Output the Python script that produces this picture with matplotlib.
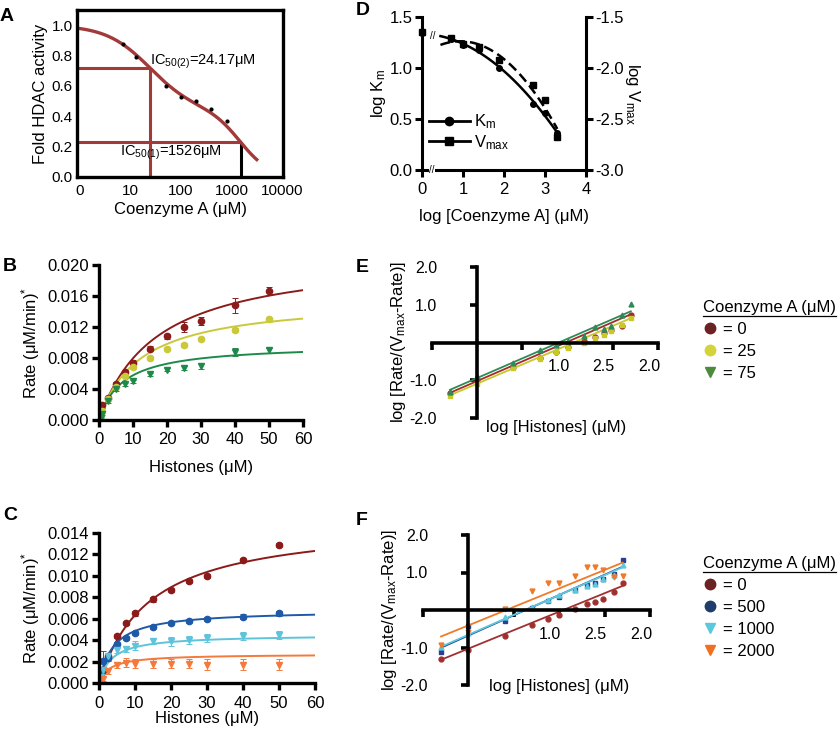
import numpy as np
import matplotlib
matplotlib.use('Agg')
import matplotlib.pyplot as plt
import matplotlib.transforms as mtransforms
from matplotlib.lines import Line2D

plt.rcParams['font.family'] = ['Liberation Sans', 'DejaVu Sans']
plt.rcParams['mathtext.fontset'] = 'custom'
plt.rcParams['mathtext.rm'] = 'Liberation Sans'
plt.rcParams['mathtext.it'] = 'Liberation Sans:italic'
plt.rcParams['mathtext.bf'] = 'Liberation Sans:bold'
plt.rcParams['axes.unicode_minus'] = False

# ---------------- data ----------------
# A: HDAC activity vs coenzyme A
coa_conc = [7, 13, 50, 100, 200, 400, 800]
hdac_activity = [0.875, 0.79, 0.60, 0.53, 0.50, 0.45, 0.37]
ic50_values = [24.17, 1526]
ic50_fraction = [0.56, 0.44]
ic50_hill = [1.0, 1.5]

# D: log Km / log Vmax vs log [CoA]
coa_log = [0, 0.7, 1.0, 1.4, 1.88, 2.7, 3.0, 3.3]
km_log = [1.34, 1.28, 1.23, 1.18, 1.00, 0.65, 0.56, 0.36]
vmax_log = [-1.65, -1.71, -1.76, -1.79, -1.92, -2.17, -2.31, -2.68]

# B / C: rate vs histones
histones = [0.5, 1, 2.5, 5, 7.5, 10, 15, 20, 25, 30, 40, 50]

b_labels = ['0', '25', '75']
b_rates = [
    [0.0010, 0.0019, 0.0028, 0.0047, 0.0062, 0.0074, 0.0092, 0.0108, 0.0120, 0.0128, 0.0148, 0.0166],
    [0.0006, 0.0011, 0.0027, 0.0043, 0.0057, 0.0068, 0.0080, 0.0092, 0.0097, 0.0105, 0.0116, 0.0130],
    [0.0002, 0.0008, 0.0024, 0.0040, 0.0046, 0.0050, 0.0059, 0.0065, 0.0067, 0.0070, 0.0088, 0.0090],
]
b_err = [
    [0.0002, 0.0003, 0.0002, 0.0002, 0.0003, 0.0003, 0.0003, 0.0003, 0.0007, 0.0005, 0.0010, 0.0005],
    [0.0001, 0.0002, 0.0002, 0.0002, 0.0002, 0.0002, 0.0002, 0.0002, 0.0003, 0.0002, 0.0003, 0.0003],
    [0.0001, 0.0002, 0.0002, 0.0002, 0.0002, 0.0002, 0.0002, 0.0002, 0.0003, 0.0004, 0.0005, 0.0003],
]
b_vmax = [0.0215, 0.0157, 0.0098]
b_km = [17, 12, 7]

c_labels = ['0', '500', '1000', '2000']
c_rates = [
    [0.0008, 0.0012, 0.0025, 0.0044, 0.0056, 0.0065, 0.0078, 0.0087, 0.0095, 0.0100, 0.0115, 0.0129],
    [0.0012, 0.0021, 0.0023, 0.0036, 0.0042, 0.0047, 0.0052, 0.0056, 0.0058, 0.0060, 0.0062, 0.0065],
    [0.0006, 0.0012, 0.0025, 0.0031, 0.0032, 0.0035, 0.0039, 0.0039, 0.0040, 0.0042, 0.0044, 0.0045],
    [0.0002, 0.0004, 0.0011, 0.0017, 0.0019, 0.0018, 0.0018, 0.0018, 0.0018, 0.0017, 0.0017, 0.0017],
]
c_err = [
    [0.0002, 0.0003, 0.0002, 0.0002, 0.0002, 0.0002, 0.0002, 0.0002, 0.0002, 0.0002, 0.0002, 0.0002],
    [0.0003, 0.0009, 0.0002, 0.0002, 0.0002, 0.0002, 0.0002, 0.0002, 0.0002, 0.0002, 0.0002, 0.0002],
    [0.0002, 0.0003, 0.0003, 0.0003, 0.0003, 0.0004, 0.0003, 0.0004, 0.0004, 0.0004, 0.0004, 0.0004],
    [0.0001, 0.0002, 0.0003, 0.0003, 0.0004, 0.0004, 0.0004, 0.0004, 0.0004, 0.0005, 0.0005, 0.0005],
]
c_vmax = [0.0152, 0.0068, 0.0045, 0.0027]
c_km = [14, 4, 3.5, 3]

# E / F: Hill plots
e_vals = [
    [-1.33, -1.02, -0.66, -0.40, -0.24, -0.12, 0.03, 0.15, 0.25, 0.32, 0.45, 0.72],
    [-1.42, -1.10, -0.68, -0.45, -0.26, -0.15, 0.00, 0.12, 0.20, 0.30, 0.47, 0.65],
    [-1.30, -0.89, -0.54, -0.21, -0.06, 0.05, 0.16, 0.42, 0.35, 0.44, 0.74, 1.03],
]
e_slope = [1.04, 1.02, 1.04]
e_icpt = [-1.02, -1.09, -0.94]

f_vals = [
    [-1.31, -1.07, -0.68, -0.40, -0.25, -0.12, 0.04, 0.15, 0.22, 0.30, 0.47, 0.71],
    [-1.11, -0.42, -0.28, 0.06, 0.25, 0.36, 0.53, 0.66, 0.73, 0.84, 0.96, 1.33],
    [-0.98, -0.62, -0.18, 0.07, 0.27, 0.40, 0.53, 0.64, 0.69, 0.84, 0.93, 1.20],
    [-0.93, -0.58, 0.02, 0.52, 0.71, 0.73, 0.91, 1.14, 1.14, 1.08, 0.89, 0.91],
]
f_slope = [0.985, 1.08, 1.06, 0.985]
f_icpt = [-1.03, -0.68, -0.66, -0.41]

# ---------------- styles ----------------
W, H = 840, 730
red_A = '#a33a3a'
b_colors = ['#8b1c1c', '#c9c93a', '#1e8a4a']
b_markers = ['o', 'o', 'v']
c_colors = ['#8b1a1a', '#1f5aa8', '#5ec4dc', '#f4793b']
c_markers = ['o', 'o', 'v', 'v']
e_colors = ['#a52a2a', '#c8c828', '#2e8b57']
e_markers = ['o', 's', '^']
e_leg_colors = ['#6b2222', '#d4d43a', '#4b8b3b']
e_leg_markers = ['o', 'o', 'v']
f_colors = ['#a03030', '#2a3f8f', '#5bc8e0', '#f07a28']
f_markers = ['o', 's', '^', 'v']
f_leg_colors = ['#6b2222', '#1f3d6b', '#5bc8e0', '#f07020']
f_leg_markers = ['o', 'o', 'v', 'v']

LAB = 12    # axis labels
TICK = 12   # tick labels (B, C, D)


def rect(left, top, right, bottom):
    return [left / W, 1 - bottom / H, (right - left) / W, (bottom - top) / H]


fig = plt.figure(figsize=(8.4, 7.3), dpi=100)

# ---------------- A ----------------
axA = fig.add_axes(rect(77, 10, 283, 177))


def two_site(conc):
    conc = np.asarray(conc, dtype=float)
    return sum(f / (1 + (conc / ic) ** h) for f, ic, h in zip(ic50_fraction, ic50_values, ic50_hill))


xlimA = (-0.06, 4.02)
axA.set_xlim(*xlimA)
axA.set_ylim(0, 1.1)
cc = np.logspace(0, 3.5, 300)
ic_y = two_site(ic50_values)
ic_x = np.log10(ic50_values)
axA.hlines(ic_y, xlimA[0], ic_x, color=red_A, lw=2.2)
axA.vlines(ic_x[0], 0, ic_y[0], color=red_A, lw=2.2)
axA.vlines(ic_x[1], 0, ic_y[1], color='black', lw=2.2)
axA.plot(np.log10(cc), two_site(cc), color=red_A, lw=2.4)
axA.plot(np.log10(coa_conc), hdac_activity, 'o', color='black', ms=2)
axA.text(ic_x[0], 0.76, r'IC$_{\mathrm{50(2)}}$=24.17μM', fontsize=10.5, va='center')
axA.text(0.79, 0.16, r'IC$_{\mathrm{50(1)}}$=1526μM', fontsize=10.5, va='center')
axA.set_xticks([0, 1, 2, 3, 4], ['0', '10', '100', '1000', '10000'])
axA.set_yticks([0, 0.2, 0.4, 0.6, 0.8, 1.0], ['0.0', '0.2', '0.4', '0.6', '0.8', '1.0'])
axA.tick_params(length=0, labelsize=11)
axA.tick_params(axis='x', pad=5)
axA.tick_params(axis='y', pad=3)
for s in axA.spines.values():
    s.set_linewidth(2.4)
axA.set_xlabel('Coenzyme A (μM)', fontsize=LAB, labelpad=3)
axA.set_ylabel('Fold HDAC activity', fontsize=LAB, labelpad=3)

# ---------------- D ----------------
axD = fig.add_axes(rect(422, 17, 586, 170))
axD2 = axD.twinx()
axD.set_xlim(0, 4)
axD.set_ylim(0, 1.5)
axD2.set_ylim(-3.0, -1.5)
xs = np.linspace(0.45, 3.3, 100)
pk = np.polyfit(coa_log[1:], km_log[1:], 2)
pv = np.polyfit(coa_log[1:], vmax_log[1:], 2)
axD.plot(xs, np.polyval(pk, xs), color='black', lw=1.8)
axD2.plot(xs, np.polyval(pv, xs), color='black', lw=1.8, ls=(0, (4, 2)))
axD.plot(coa_log, km_log, 'o', color='black', ms=4, clip_on=False)
axD2.plot(coa_log, vmax_log, 's', color='black', ms=4, clip_on=False)
axD.set_xticks([0, 1, 2, 3, 4])
axD.set_yticks([0, 0.5, 1.0, 1.5], ['0.0', '0.5', '1.0', '1.5'])
axD2.set_yticks([-3.0, -2.5, -2.0, -1.5], ['-3.0', '-2.5', '-2.0', '-1.5'])
for a in (axD, axD2):
    a.spines['top'].set_visible(False)
    for s in a.spines.values():
        s.set_linewidth(2.2)
    a.tick_params(width=2.2, length=5, labelsize=TICK, pad=2)
axD.tick_params(axis='x', pad=4)
axD.spines['right'].set_visible(False)
axD2.spines['left'].set_visible(False)
axD2.spines['bottom'].set_visible(False)
for xy in [(0.27, 1.31), (0.24, 0.0)]:
    axD.text(*xy, '//', fontsize=7, ha='center', va='center', zorder=5,
             bbox=dict(facecolor='white', edgecolor='none', pad=0.3), clip_on=False)
axD.set_xlabel('log [Coenzyme A] (μM)', fontsize=LAB, labelpad=8)
axD.set_ylabel(r'log K$_{\mathrm{m}}$', fontsize=LAB, labelpad=1)
axD2.set_ylabel(r'log V$_{\mathrm{max}}$', fontsize=LAB, rotation=270, labelpad=13)
hD = [Line2D([], [], color='black', lw=2, marker='o', ms=6),
      Line2D([], [], color='black', lw=2, marker='s', ms=6)]
axD.legend(hD, [r'K$_{\mathrm{m}}$', r'V$_{\mathrm{max}}$'], loc='lower left',
           bbox_to_anchor=(0.04, 0.12), frameon=False, fontsize=12, handlelength=2.5,
           handletextpad=0.2, labelspacing=0.1, borderaxespad=0, borderpad=0)

# ---------------- B ----------------
axB = fig.add_axes(rect(99, 265, 303, 420))
xm = np.linspace(0, 60, 200)
for vals, err, col, mk, vm, km in zip(b_rates, b_err, b_colors, b_markers, b_vmax, b_km):
    axB.plot(xm, vm * xm / (km + xm), color=col, lw=1.4)
    axB.errorbar(histones, vals, yerr=err, fmt=mk, color=col, ms=4.5, elinewidth=0.7,
                 capsize=2, capthick=0.7, ecolor=col)
axB.set_xlim(0, 60)
axB.set_ylim(0, 0.020)
axB.set_xticks(range(0, 61, 10))
axB.set_yticks([0, 0.004, 0.008, 0.012, 0.016, 0.020],
               ['0.000', '0.004', '0.008', '0.012', '0.016', '0.020'])
axB.set_xlabel('Histones (μM)', fontsize=LAB, labelpad=9)
axB.set_ylabel(r'Rate (μM/min)$^{*}$', fontsize=LAB, labelpad=4)

# ---------------- C ----------------
axC = fig.add_axes(rect(99, 533, 315, 683))
for vals, err, col, mk, vm, km in zip(c_rates, c_err, c_colors, c_markers, c_vmax, c_km):
    axC.plot(xm, vm * xm / (km + xm), color=col, lw=1.4)
    axC.errorbar(histones, vals, yerr=err, fmt=mk, color=col, ms=4.5, elinewidth=0.7,
                 capsize=2, capthick=0.7, ecolor=col)
axC.set_xlim(0, 60)
axC.set_ylim(0, 0.014)
axC.set_xticks(range(0, 61, 10))
axC.set_yticks(np.arange(0, 0.0141, 0.002), ['%.3f' % v for v in np.arange(0, 0.0141, 0.002)])
axC.set_ylabel(r'Rate (μM/min)$^{*}$', fontsize=LAB, labelpad=4)

for a in (axB, axC):
    a.spines['top'].set_visible(False)
    a.spines['right'].set_visible(False)
    for s in ('left', 'bottom'):
        a.spines[s].set_linewidth(2.4)
    a.tick_params(width=2.4, length=5, labelsize=TICK, pad=2)
    a.tick_params(axis='x', pad=4)
axC.set_xlabel('Histones (μM)', fontsize=LAB, labelpad=0)

# ---------------- E / F ----------------
hist_log = np.log10(histones)
xl = np.linspace(hist_log[0], hist_log[-1], 50)
shift = mtransforms.ScaledTranslation(-9 / 100, 0, fig.dpi_scale_trans)
legends = []


def hill_axes(box, vals, slopes, icpts, colors, markers, leg_colors, leg_markers, labels,
              lab_xy, leg_xy):
    ax = fig.add_axes(rect(*box))
    ax.set_xlim(-0.5, 2.0)
    ax.set_ylim(-2.0, 2.0)
    for v, sl, ic, col, mk in zip(vals, slopes, icpts, colors, markers):
        ax.plot(xl, sl * xl + ic, color=col, lw=1.3)
        ax.plot(hist_log, v, mk, color=col, ms=3.5)
    ax.spines['left'].set_position('zero')
    ax.spines['bottom'].set_position('zero')
    ax.spines['top'].set_visible(False)
    ax.spines['right'].set_visible(False)
    for s in ('left', 'bottom'):
        ax.spines[s].set_linewidth(2.6)
    ax.set_yticks([-2, -1, 1, 2], ['-2.0', '-1.0', '1.0', '2.0'])
    ax.set_xticks([-0.5, 0.5, 1.0, 1.5, 2.0], ['', '', '1.0', '2.5', '2.0'])
    ax.tick_params(axis='y', width=2.6, length=5, labelsize=11.5, pad=24)
    ax.tick_params(axis='x', width=2.6, length=5, labelsize=11.5, pad=7)
    for lbl in ax.get_xticklabels():
        lbl.set_transform(lbl.get_transform() + shift)
    ax.set_ylabel('log [Rate/(V$_{\\mathrm{max}}$-Rate)]', fontsize=LAB, labelpad=1)
    ax.set_xlabel('log [Histones] (μM)', fontsize=LAB)
    ax.xaxis.set_label_coords(*lab_xy)
    handles = [Line2D([], [], ls='none', marker=m, color=c, ms=7.5)
               for m, c in zip(leg_markers, leg_colors)]
    leg = ax.legend(handles, ['= ' + l for l in labels], loc='upper left', bbox_to_anchor=leg_xy,
                    title='Coenzyme A (μM)', title_fontsize=12,
                    fontsize=12, frameon=False, handlelength=0.8, handletextpad=0.4,
                    labelspacing=0.42, borderaxespad=0, borderpad=0, alignment='left')
    legends.append(leg)
    return ax


axE = hill_axes((432, 267, 658, 418), e_vals, e_slope, e_icpt, e_colors, e_markers,
                e_leg_colors, e_leg_markers, b_labels, (0.55, -0.01), (1.199, 0.78))
axF = hill_axes((423, 535, 650, 685), f_vals, f_slope, f_icpt, f_colors, f_markers,
                f_leg_colors, f_leg_markers, c_labels, (0.60, 0.04), (1.233, 0.86))

# panel letters
for letter, (px, py) in zip('ABCDEF', [(0, 8), (3, 258), (3, 507), (356, 2), (356, 259), (356, 512)]):
    fig.text(px / W, 1 - py / H, letter, fontsize=14, fontweight='bold', va='top', ha='left')

# underline the legend titles
fig.canvas.draw()
for leg in legends:
    bb = leg.get_title().get_window_extent()
    fig.add_artist(Line2D([bb.x0 / W, bb.x1 / W], [(bb.y0 - 1) / H] * 2,
                          transform=fig.transFigure, color='black', lw=0.9))

fig.savefig('out.png', dpi=100)
